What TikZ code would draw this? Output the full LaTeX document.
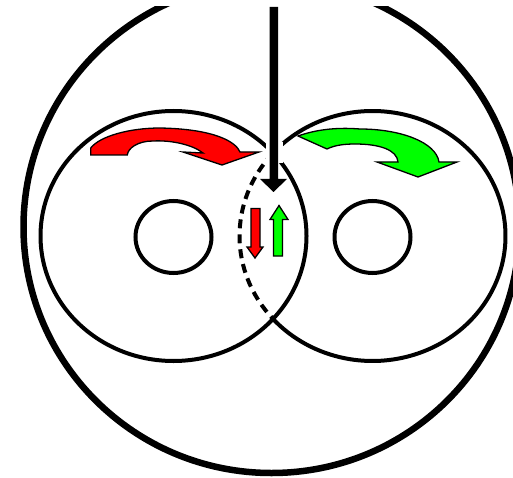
\documentclass[tikz,border=0pt]{standalone}
\tikzset{
  outerring/.style={line width=6.5pt,draw=black},
  thinring/.style={line width=4pt,draw=black},
  dashring/.style={line width=4pt,draw=black,dash pattern=on 9pt off 6pt},
  bigflow/.style={draw=black,line width=1.3pt,line join=miter},
}
\definecolor{flowgreen}{RGB}{0,255,0}
\definecolor{flowred}{RGB}{255,0,0}
\begin{document}
\begin{tikzpicture}[x=1pt,y=-1pt]
\useasboundingbox (0,0) rectangle (513,478);
\begin{scope}
\clip (0,7) rectangle (513,478);
\draw[outerring] (271.5,227) ellipse [x radius=248,y radius=246];
\end{scope}
% rollers
\draw[thinring] (173.5,236) ellipse [x radius=133,y radius=125];
\draw[thinring] (372.5,236) ++(221.6:133 and 125) arc [start angle=221.6,end angle=498.4,x radius=133,y radius=125];
\draw[dashring] (372.5,236) ++(221.6:133 and 125) arc [start angle=221.6,end angle=138.4,x radius=133,y radius=125];
\draw[thinring] (173.5,237) ellipse [x radius=38,y radius=36];
\draw[thinring] (372.5,237) ellipse [x radius=38,y radius=36];
% gap round the load arrow
\fill[white] (266,142) rectangle (282.5,163);
% load arrow
\fill[black] (269.5,7) -- (278,7) -- (278,179) -- (287,179) -- (273.5,192) -- (260,179) -- (269.5,179) -- cycle;
% red curved arrow
\draw[bigflow,fill=flowred] (90.7,148) -- (90.7,155) -- (127.3,155) .. controls (128,148) and (138,141) .. (153,141) .. controls (172,140) and (193,145) .. (203,153) -- (183,152) -- (222,165) -- (259,152) -- (240,152) .. controls (236,142) and (215,129) .. (160,128) .. controls (130,128) and (100,136) .. cycle;
% green curved arrow
\draw[bigflow,fill=flowgreen] (298,136) -- (327,149) .. controls (335,145) and (345,144) .. (355,144) .. controls (380,144) and (397,150) .. (398,162) -- (377,162) -- (418,177) -- (457,162) -- (439,162) .. controls (436,142) and (400,129) .. (360,129) .. controls (335,127) and (315,130) .. cycle;
% small arrows
\draw[bigflow,fill=flowred] (251,208.5) -- (260,208.5) -- (260,247) -- (263,247) -- (255,258) -- (247,247) -- (251,247) -- cycle;
\draw[bigflow,fill=flowgreen] (273.5,256) -- (282.5,256) -- (282.5,219.5) -- (288,219.5) -- (279,205.5) -- (270,219.5) -- (273.5,219.5) -- cycle;
\end{tikzpicture}
\end{document}
